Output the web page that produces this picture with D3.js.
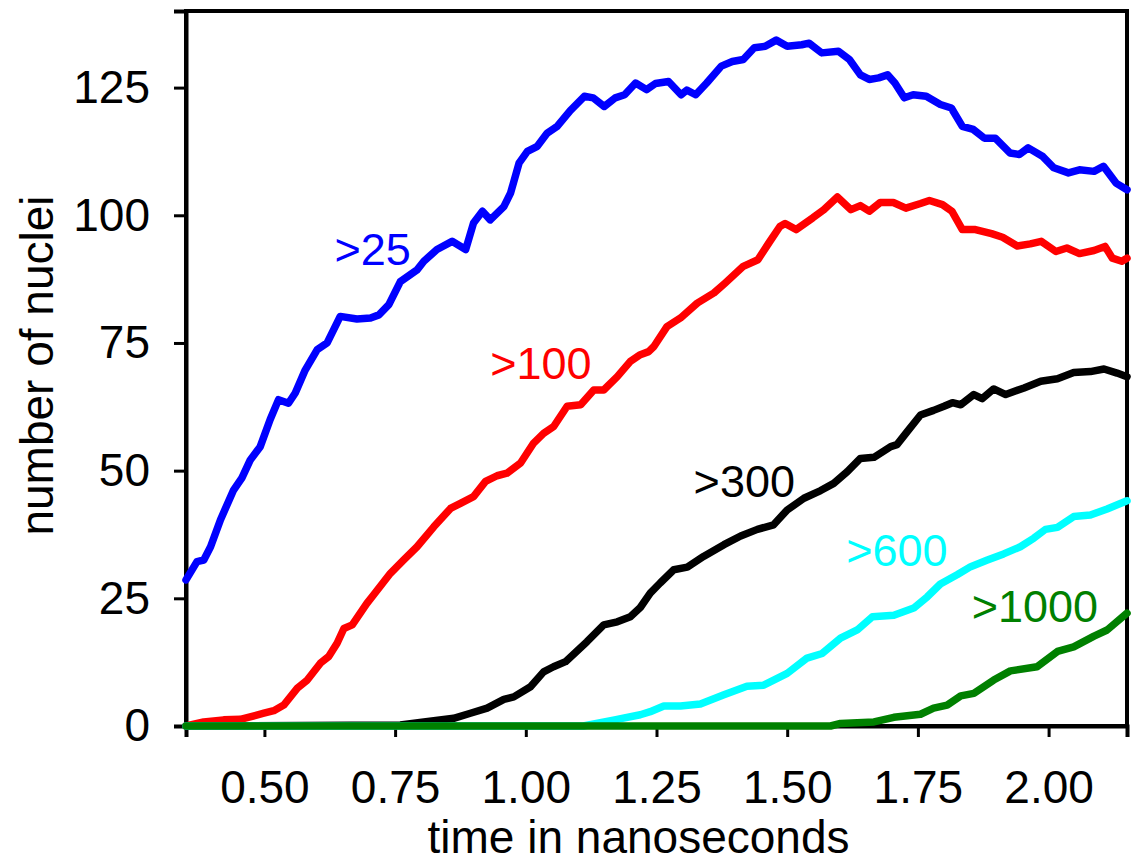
<!DOCTYPE html>
<html>
<head>
<meta charset="utf-8">
<script src="https://cdn.jsdelivr.net/npm/d3@7/dist/d3.min.js"></script>
<style>
  body { margin: 0; background: #fff; }
  svg { display: block; font-family: "Liberation Sans", Arial, sans-serif; }
  .axis text { font-size: 46px; fill: #000; }
  .axis path, .axis line { stroke: #000; }
  .series { fill: none; stroke-width: 7.5; stroke-linejoin: round; stroke-linecap: round; }
</style>
</head>
<body>
<svg width="1133" height="864"></svg>
<script>
// time in ns, number of nuclei
var blueT = [0.35,0.371,0.384,0.397,0.416,0.441,0.457,0.473,0.492,0.511,0.527,0.546,0.559,0.578,0.601,0.620,0.645,0.677,0.703,0.719,0.738,0.760,0.792,0.805,0.830,0.859,0.885,0.900,0.917,0.932,0.958,0.971,0.987,1.003,1.022,1.041,1.060,1.085,1.112,1.129,1.150,1.171,1.189,1.210,1.231,1.248,1.273,1.297,1.308,1.325,1.346,1.374,1.395,1.416,1.437,1.458,1.479,1.500,1.528,1.542,1.566,1.598,1.619,1.640,1.657,1.675,1.692,1.706,1.724,1.741,1.766,1.793,1.814,1.835,1.856,1.877,1.898,1.926,1.944,1.961,1.989,2.010,2.038,2.059,2.087,2.105,2.129,2.15];
var blueV = [28.6,32.2,32.5,35.1,40.4,46.2,48.6,52.1,54.7,60,63.9,63.2,65.2,69.7,73.7,75,80.2,79.7,79.9,80.5,82.5,87,89.3,91,93.3,94.9,93.3,98.5,100.8,99.1,101.7,104.4,110.2,112.5,113.5,116.1,117.4,120.5,123.3,123,121.3,123,123.6,125.9,124.6,125.8,126.2,123.6,124.5,123.6,125.9,129.2,130.1,130.5,132.8,133.1,134.3,133.1,133.4,133.7,131.8,132.1,130.5,127.5,126.6,126.9,127.5,125.9,123,123.6,123.3,121.7,121,117.4,116.8,115.1,115.1,112.2,111.9,113.2,111.5,109.3,108.3,108.9,108.6,109.6,106.3,105];

var redT = [0.35,0.384,0.422,0.454,0.499,0.518,0.537,0.563,0.582,0.607,0.623,0.639,0.652,0.668,0.696,0.709,0.741,0.766,0.792,0.824,0.856,0.875,0.900,0.923,0.945,0.964,0.990,1.015,1.034,1.053,1.079,1.105,1.130,1.149,1.175,1.200,1.219,1.235,1.245,1.270,1.296,1.328,1.360,1.381,1.416,1.444,1.465,1.486,1.496,1.517,1.549,1.570,1.596,1.622,1.640,1.657,1.678,1.703,1.727,1.755,1.772,1.797,1.815,1.835,1.860,1.891,1.912,1.940,1.965,1.986,2.014,2.035,2.059,2.087,2.108,2.122,2.140,2.15];
var redV = [0,0.8,1.2,1.3,2.5,3.0,4.1,7.4,9.0,12.3,13.6,16.2,19.1,19.8,24,25.7,29.9,32.5,35.1,39.0,42.6,43.6,44.9,47.9,49,49.5,51.5,55.4,57.3,58.6,62.6,62.9,65.8,65.8,68.4,71.4,72.7,73.3,74.3,78.2,79.9,82.8,84.8,86.7,90,91.3,94.6,97.8,98.4,97.2,99.5,101.1,103.6,101.1,101.9,100.8,102.5,102.5,101.4,102.3,102.9,102.1,100.8,97.2,97.2,96.4,95.7,94,94.4,94.9,92.9,93.6,92.5,93.1,93.9,91.6,91,91.6];

var blackT = [0.35,0.76,0.805,0.862,0.894,0.926,0.958,0.977,1.009,1.034,1.053,1.076,1.117,1.149,1.175,1.200,1.219,1.238,1.257,1.283,1.309,1.340,1.379,1.411,1.443,1.474,1.500,1.532,1.564,1.589,1.615,1.640,1.666,1.698,1.710,1.730,1.755,1.780,1.800,1.816,1.832,1.857,1.873,1.895,1.918,1.953,1.985,2.017,2.048,2.080,2.106,2.131,2.15];
var blackV = [0,0.2,0.8,1.5,2.5,3.5,5.2,5.7,7.7,10.6,11.6,12.6,16.5,19.8,20.4,21.4,23.2,26,28,30.6,31.1,33.2,35.5,37.2,38.5,39.4,42.3,44.6,46.1,47.5,49.8,52.4,52.6,54.7,55.1,57.7,60.9,61.8,62.6,63.3,62.9,64.9,64.1,66,64.9,66.2,67.5,68,69.2,69.4,69.9,69.1,68.4];

var cyanT = [0.35,1.11,1.17,1.219,1.238,1.264,1.296,1.334,1.379,1.423,1.455,1.500,1.538,1.567,1.602,1.634,1.663,1.704,1.742,1.768,1.793,1.825,1.851,1.883,1.914,1.946,1.972,1.994,2.017,2.048,2.080,2.112,2.15];
var cyanV = [0,0,1.2,2.2,2.8,3.9,3.9,4.3,6.1,7.8,8.0,10.3,13.3,14.2,17.2,18.8,21.4,21.7,23.1,25.3,27.8,29.6,31.2,32.5,33.7,35.1,36.8,38.5,38.9,41,41.3,42.5,44.1];

var greenT = [0.35,1.583,1.602,1.666,1.704,1.755,1.780,1.806,1.832,1.857,1.895,1.927,1.978,2.017,2.048,2.087,2.112,2.15];
var greenV = [0,0,0.5,0.8,1.7,2.3,3.5,4.1,5.9,6.4,9.0,10.8,11.6,14.6,15.5,17.6,18.8,22.1];

var seriesNames = [">25", ">100", ">300", ">600", ">1000"];
var seriesColors = ["#0000ff", "#ff0000", "#000000", "#00ffff", "#008000"];
// where each series label sits (time, nuclei)
var labelT = [0.634, 0.932, 1.321, 1.613, 1.853];
var labelV = [90.3, 68.0, 44.9, 31.3, 20.4];

var xTicks = [0.50, 0.75, 1.00, 1.25, 1.50, 1.75, 2.00];
var yTicks = [0, 25, 50, 75, 100, 125];

var svg = d3.select("svg");
var margin = {top: 11, right: 6, bottom: 138, left: 186},
    width = 1133 - margin.left - margin.right,
    height = 864 - margin.top - margin.bottom;

var g = svg.append("g")
    .attr("transform", "translate(" + margin.left + "," + margin.top + ")");

var x = d3.scaleLinear().domain([0.35, 2.15]).range([0, width]),
    y = d3.scaleLinear().domain([0, 140]).range([height, 0]);

var seriesData = [
  d3.zip(blueT, blueV),
  d3.zip(redT, redV),
  d3.zip(blackT, blackV),
  d3.zip(cyanT, cyanV),
  d3.zip(greenT, greenV)
];

// frame around the plot
g.append("rect")
    .attr("width", width)
    .attr("height", height)
    .attr("fill", "none")
    .attr("stroke", "#000")
    .attr("stroke-width", 4);

g.append("g")
    .attr("class", "axis axis--x")
    .attr("transform", "translate(0," + height + ")")
    .call(d3.axisBottom(x).tickValues(xTicks).tickFormat(d3.format(".2f")).tickSize(11).tickPadding(33));

g.append("g")
    .attr("class", "axis axis--y")
    .call(d3.axisLeft(y).tickValues(yTicks).tickFormat(d3.format("d")).tickSize(12).tickPadding(24));

g.selectAll(".axis").attr("font-family", null).attr("font-size", null);
g.selectAll(".axis path").attr("stroke-width", 4);
g.selectAll(".axis line").attr("stroke-width", 3);

// axis titles
svg.append("text")
    .attr("x", margin.left + width / 2 - 18)
    .attr("y", 853)
    .attr("text-anchor", "middle")
    .style("font-size", "46px")
    .text("time in nanoseconds");

svg.append("text")
    .attr("transform", "translate(53," + (margin.top + height / 2 - 3) + ") rotate(-90)")
    .attr("text-anchor", "middle")
    .style("font-size", "46px")
    .text("number of nuclei");

var line = d3.line()
    .x(d => x(d[0]))
    .y(d => y(d[1]));

seriesData.forEach(function(data, i) {
  g.append("path")
      .datum(data)
      .attr("class", "series")
      .attr("d", line)
      .style("stroke", seriesColors[i]);
});

seriesNames.forEach(function(name, i) {
  g.append("text")
      .attr("x", x(labelT[i]))
      .attr("y", y(labelV[i]))
      .attr("fill", seriesColors[i])
      .style("font-size", "45px")
      .text(name);
});
</script>
</body>
</html>
